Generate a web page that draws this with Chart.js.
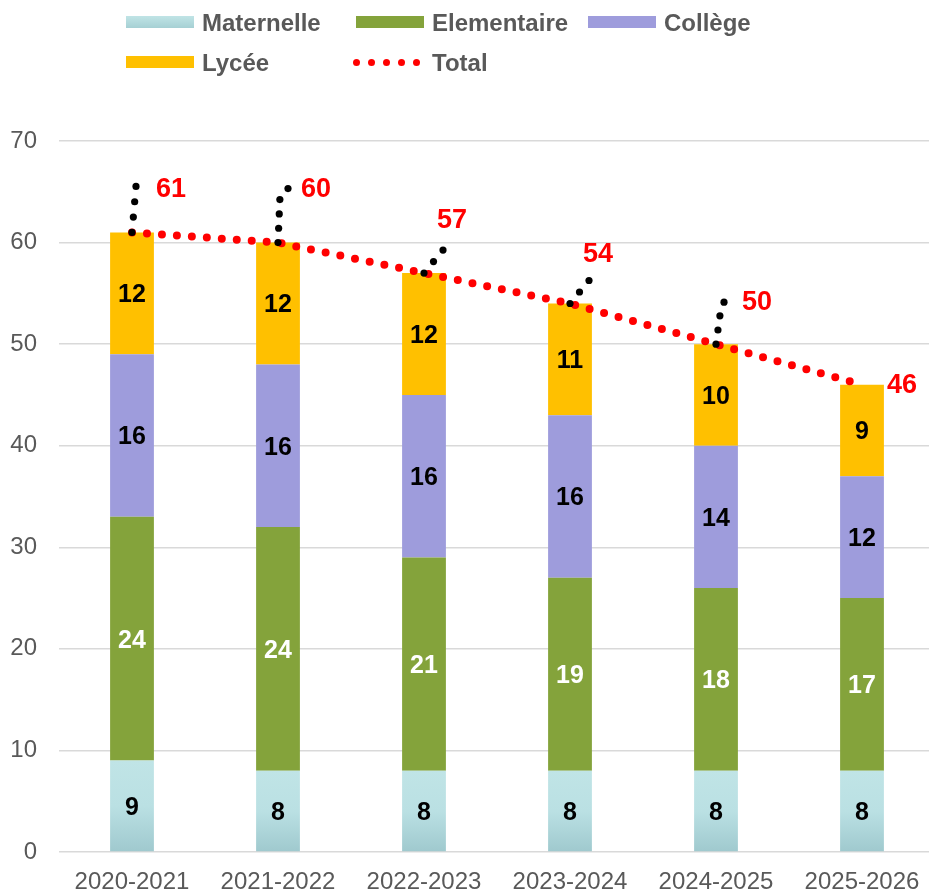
<!DOCTYPE html>
<html>
<head>
<meta charset="utf-8">
<script src="https://cdn.jsdelivr.net/npm/chart.js@4/dist/chart.umd.min.js"></script>
<style>
  body { margin: 0; overflow: hidden; background: #fff; font-family: "Liberation Sans", Arial, sans-serif; }
  #wrap { position: relative; width: 936px; height: 893px; }
  .lg-box { position: absolute; width: 68px; height: 12px; }
  .lg-txt { position: absolute; font-size: 24px; font-weight: bold; color: #595959; line-height: 24px; white-space: nowrap; }
  .lg-dot { position: absolute; width: 7px; height: 7px; border-radius: 50%; background: #ff0000; }
</style>
</head>
<body>
<div id="wrap">
  <canvas id="myChart"></canvas>
  <div class="lg-box" style="left:126px;top:16px;background:linear-gradient(#c0e4e6,#a6d0d4);"></div>
  <div class="lg-txt" style="left:202px;top:11px;">Maternelle</div>
  <div class="lg-box" style="left:356px;top:16px;background:#84a33b;"></div>
  <div class="lg-txt" style="left:432px;top:11px;">Elementaire</div>
  <div class="lg-box" style="left:588px;top:16px;background:#9e9cdc;"></div>
  <div class="lg-txt" style="left:664px;top:11px;">Collège</div>
  <div class="lg-box" style="left:126px;top:56px;background:#ffc000;"></div>
  <div class="lg-txt" style="left:202px;top:51px;">Lycée</div>
  <div class="lg-dot" style="left:353px;top:59px;"></div>
  <div class="lg-dot" style="left:368px;top:59px;"></div>
  <div class="lg-dot" style="left:383px;top:59px;"></div>
  <div class="lg-dot" style="left:398px;top:59px;"></div>
  <div class="lg-dot" style="left:413px;top:59px;"></div>
  <div class="lg-txt" style="left:432px;top:51px;">Total</div>
</div>
<script>
const years = ['2020-2021', '2021-2022', '2022-2023', '2023-2024', '2024-2025', '2025-2026'];
const maternelle = [9, 8, 8, 8, 8, 8];
const elementaire = [24, 24, 21, 19, 18, 17];
const college = [16, 16, 16, 16, 14, 12];
const lycee = [12, 12, 12, 11, 10, 9];
const total = [61, 60, 57, 54, 50, 46];

// label text colour per bar dataset
const labelColors = ['#000', '#fff', '#000', '#000'];

// where the Total labels sit relative to their point, and the leader path to them
const totalLabelOffsets = [[39, -43], [38, -53], [28, -52], [28, -49], [41, -42], [40, 1]];
const leaderPaths = [
    [[0, 0], [4, -46]],
    [[0, 0], [2, -46], [10, -54]],
    [[0, 0], [19, -23]],
    [[0, 0], [19, -23]],
    [[0, 0], [4, -29], [8, -42]],
    null,
];

const FONT = '"Liberation Sans", Arial, sans-serif';

// light teal gradient for each Maternelle bar
const maternelleFill = (context) => {
    const chart = context.chart;
    if (!chart.chartArea || context.raw === undefined) return '#b6dde0';
    const y = chart.scales.y;
    const top = y.getPixelForValue(context.raw);
    const bottom = y.getPixelForValue(0);
    if (!isFinite(top) || !isFinite(bottom) || top === bottom) return '#b6dde0';
    const g = chart.ctx.createLinearGradient(0, top, 0, bottom);
    g.addColorStop(0, '#c0e4e6');
    g.addColorStop(0.5, '#bae0e3');
    g.addColorStop(1, '#9fc9ce');
    return g;
};

// round dots spread evenly along a polyline, first and last included
const dotsAlong = (ctx, pts, gap, r) => {
    let len = 0;
    for (let k = 1; k < pts.length; k++) len += Math.hypot(pts[k][0] - pts[k - 1][0], pts[k][1] - pts[k - 1][1]);
    const n = Math.max(1, Math.round(len / gap));
    const step = len / n;
    for (let d = 0; d <= n; d++) {
        let target = d * step;
        for (let k = 1; k < pts.length; k++) {
            const seg = Math.hypot(pts[k][0] - pts[k - 1][0], pts[k][1] - pts[k - 1][1]);
            if (target <= seg + 0.001 || k === pts.length - 1) {
                const t = seg ? Math.min(1, target / seg) : 0;
                const x = pts[k - 1][0] + (pts[k][0] - pts[k - 1][0]) * t;
                const y = pts[k - 1][1] + (pts[k][1] - pts[k - 1][1]) * t;
                ctx.beginPath();
                ctx.arc(x, y, r, 0, Math.PI * 2);
                ctx.fill();
                break;
            }
            target -= seg;
        }
    }
};

const labelsPlugin = {
    id: 'labels',
    afterDatasetsDraw(chart) {
        const ctx = chart.ctx;
        ctx.save();
        ctx.textAlign = 'center';
        ctx.textBaseline = 'middle';
        ctx.font = 'bold 25px ' + FONT;
        for (let i = 0; i < 4; i++) {
            const meta = chart.getDatasetMeta(i);
            meta.data.forEach((bar, j) => {
                ctx.fillStyle = labelColors[i];
                ctx.fillText(chart.data.datasets[i].data[j], bar.x, (bar.y + bar.base) / 2 + 2);
            });
        }
        const lineMeta = chart.getDatasetMeta(4);
        lineMeta.data.forEach((pt, j) => {
            const path = leaderPaths[j];
            if (path) {
                ctx.fillStyle = '#000';
                dotsAlong(ctx, path.map(([dx, dy]) => [pt.x + dx, pt.y + dy]), 15, 3.6);
            }
            const [ox, oy] = totalLabelOffsets[j];
            ctx.font = 'bold 27px ' + FONT;
            ctx.fillStyle = '#ff0000';
            ctx.fillText(total[j], pt.x + ox, pt.y + oy);
        });
        ctx.restore();
    }
};

const ctx = document.getElementById('myChart').getContext('2d');

const myChart = new Chart(ctx, {
    type: 'bar',
    data: {
        labels: years,
        datasets: [
            { label: 'Maternelle', data: maternelle, backgroundColor: maternelleFill, stack: 'eleves' },
            { label: 'Elementaire', data: elementaire, backgroundColor: '#84a33b', stack: 'eleves' },
            { label: 'Collège', data: college, backgroundColor: '#9e9cdc', stack: 'eleves' },
            { label: 'Lycée', data: lycee, backgroundColor: '#ffc000', stack: 'eleves' },
            {
                type: 'line',
                label: 'Total',
                data: total,
                stack: 'total',
                order: -1,
                borderColor: '#ff0000',
                borderWidth: 8,
                borderDash: [0, 15],
                borderCapStyle: 'round',
                pointRadius: 0,
                fill: false,
                tension: 0,
            },
        ]
    },
    options: {
        responsive: true,
        maintainAspectRatio: false,
        animation: false,
        datasets: {
            bar: { barPercentage: 0.6, categoryPercentage: 0.5 }
        },
        layout: {
            padding: { top: 141, right: 1, bottom: 0, left: 0 }
        },
        plugins: {
            legend: { display: false },
            tooltip: { enabled: false },
        },
        scales: {
            x: {
                stacked: true,
                grid: { display: false },
                border: { display: false },
                ticks: {
                    color: '#595959',
                    padding: 8,
                    maxRotation: 0,
                    font: { family: FONT, size: 24 },
                },
                afterFit: (scale) => { scale.height = 41; },
            },
            y: {
                stacked: true,
                min: 0,
                max: 70,
                grid: { color: '#d9d9d9', lineWidth: 1.5, drawTicks: false },
                border: { display: false },
                ticks: {
                    stepSize: 10,
                    color: '#595959',
                    padding: 22,
                    font: { family: FONT, size: 24 },
                },
                afterFit: (scale) => { scale.width = 59; },
            }
        }
    },
    plugins: [labelsPlugin]
});
</script>
</body>
</html>
